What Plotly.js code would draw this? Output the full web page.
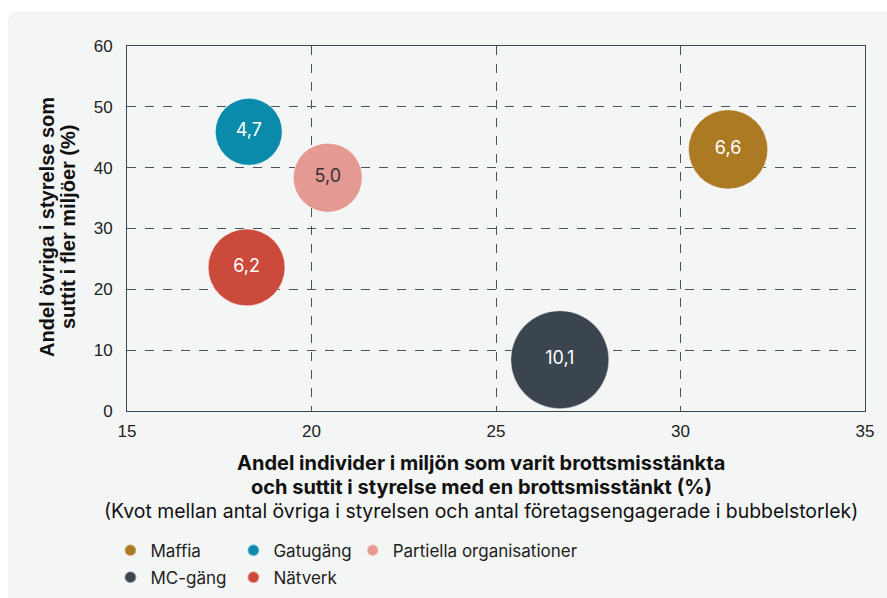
<!DOCTYPE html>
<html>
<head>
<meta charset="utf-8">
<script src="https://cdn.plot.ly/plotly-3.0.1.min.js"></script>
<style>
  html, body { margin: 0; padding: 0; background: #ffffff; }
  #panel { position: absolute; left: 8px; top: 11px; width: 879px; height: 587px; background: #f4f5f5; border-radius: 10px 0 0 0; }
  #chart { position: absolute; left: 0; top: 0; width: 887px; height: 598px; }
</style>
</head>
<body>
<div id="panel"></div>
<div id="chart"></div>
<script>
// Data
const categories = ['Maffia', 'Gatugäng', 'Partiella organisationer', 'MC-gäng', 'Nätverk'];
const xValues = [31.29, 18.30, 20.44, 26.73, 18.24];      // Andel individer ... (%)
const yValues = [43.0, 45.9, 38.35, 8.43, 23.6];          // Andel övriga i styrelse ... (%)
const ratioValues = [6.6, 4.7, 5.0, 10.1, 6.2];           // bubble size
const colors = ['#ab7a22', '#0a8bab', '#e49a93', '#3b4550', '#cc4a3c'];
const textColors = ['#ffffff', '#ffffff', '#333333', '#ffffff', '#ffffff'];
const legendGroups = ['legend', 'legend', 'legend3', 'legend2', 'legend2'];
const xTicks = [15, 20, 25, 30, 35];
const yTicks = [0, 10, 20, 30, 40, 50, 60];
const xTitleLines = [
  '<b>Andel individer i miljön som varit brottsmisstänkta</b>',
  '<b>och suttit i styrelse med en brottsmisstänkt (%)</b>',
  '(Kvot mellan antal övriga i styrelsen och antal företagsengagerade i bubbelstorlek)'
];
const yTitleLines = [
  '<b>Andel övriga i styrelse som</b>',
  '<b>suttit i fler miljöer (%)</b>'
];

const FONT = 'Inter, Roboto, sans-serif';
const FONT2 = '"Liberation Sans", Arial, sans-serif';

const traces = categories.map((name, i) => ({
  type: 'scatter',
  mode: 'markers+text',
  name: name,
  x: [xValues[i]],
  y: [yValues[i]],
  text: [ratioValues[i].toFixed(1).replace('.', ',')],
  textposition: 'middle center',
  textfont: { family: FONT, size: 18, color: textColors[i] },
  marker: {
    size: [ratioValues[i]],
    sizemode: 'area',
    sizeref: 0.0021,
    color: colors[i],
    opacity: 1,
    line: { color: 'rgba(255,255,255,0.5)', width: 1 }
  },
  legend: legendGroups[i],
  hoverinfo: 'skip',
  cliponaxis: false
}));

const legendBase = {
  orientation: 'h',
  xref: 'container', yref: 'container',
  xanchor: 'left', yanchor: 'middle',
  entrywidth: 78,
  entrywidthmode: 'pixels',
  itemsizing: 'constant',
  bgcolor: 'rgba(0,0,0,0)',
  font: { family: FONT, size: 17, color: '#222222' },
  itemclick: false, itemdoubleclick: false
};

// Plot area: x 127..865 px, y 46..411 px
const plotL = 127, plotR = 865, plotT = 46, plotB = 411;
const px2paperX = p => (p - plotL) / (plotR - plotL);
const px2paperY = p => (plotB - p) / (plotB - plotT);

const xTitleY = [463, 487, 511];
const xTitleSize = [20, 20, 19.4];
const yTitleX = [47, 68];

const annotations = [];
xTitleLines.forEach((t, i) => annotations.push({
  xref: 'paper', yref: 'paper',
  x: px2paperX(481), y: px2paperY(xTitleY[i]),
  xanchor: 'center', yanchor: 'middle',
  showarrow: false, text: t,
  font: { family: FONT, size: xTitleSize[i], color: '#111111' }
}));
yTitleLines.forEach((t, i) => annotations.push({
  xref: 'paper', yref: 'paper',
  x: px2paperX(yTitleX[i]), y: px2paperY(227),
  xanchor: 'center', yanchor: 'middle',
  textangle: -90,
  showarrow: false, text: t,
  font: { family: FONT2, size: 20, color: '#111111' }
}));

const axisBase = {
  showgrid: true,
  gridcolor: '#4a5360',
  griddash: 'dash',
  gridwidth: 1,
  showline: true,
  linecolor: '#3b4550',
  linewidth: 1,
  mirror: true,
  zeroline: false,
  ticks: '',
  tickfont: { family: FONT2, size: 17, color: '#222222' },
  automargin: false,
  fixedrange: true
};

const layout = {
  width: 887,
  height: 598,
  paper_bgcolor: 'rgba(0,0,0,0)',
  plot_bgcolor: 'rgba(0,0,0,0)',
  margin: { l: plotL, r: 887 - plotR, t: plotT, b: 598 - plotB },
  font: { family: FONT, color: '#222222' },
  xaxis: Object.assign({}, axisBase, {
    range: [15, 35],
    tickvals: xTicks,
    ticktext: xTicks.map(String),
    ticklabelstandoff: 5
  }),
  yaxis: Object.assign({}, axisBase, {
    range: [0, 60],
    tickvals: yTicks,
    ticktext: yTicks.map(String),
    ticklabelstandoff: 10
  }),
  annotations: annotations,
  showlegend: true,
  legend: Object.assign({}, legendBase, { x: 0.1245, y: 0.079 }),
  legend2: Object.assign({}, legendBase, { x: 0.1245, y: 0.034 }),
  legend3: {
    orientation: 'h',
    xref: 'container', yref: 'container',
    xanchor: 'left', yanchor: 'middle',
    x: 0.3976, y: 0.079,
    itemsizing: 'constant',
    bgcolor: 'rgba(0,0,0,0)',
    font: { family: FONT, size: 17, color: '#222222' },
    itemclick: false, itemdoubleclick: false
  }
};

Plotly.newPlot('chart', traces, layout, { displayModeBar: false, staticPlot: true });
</script>
</body>
</html>
